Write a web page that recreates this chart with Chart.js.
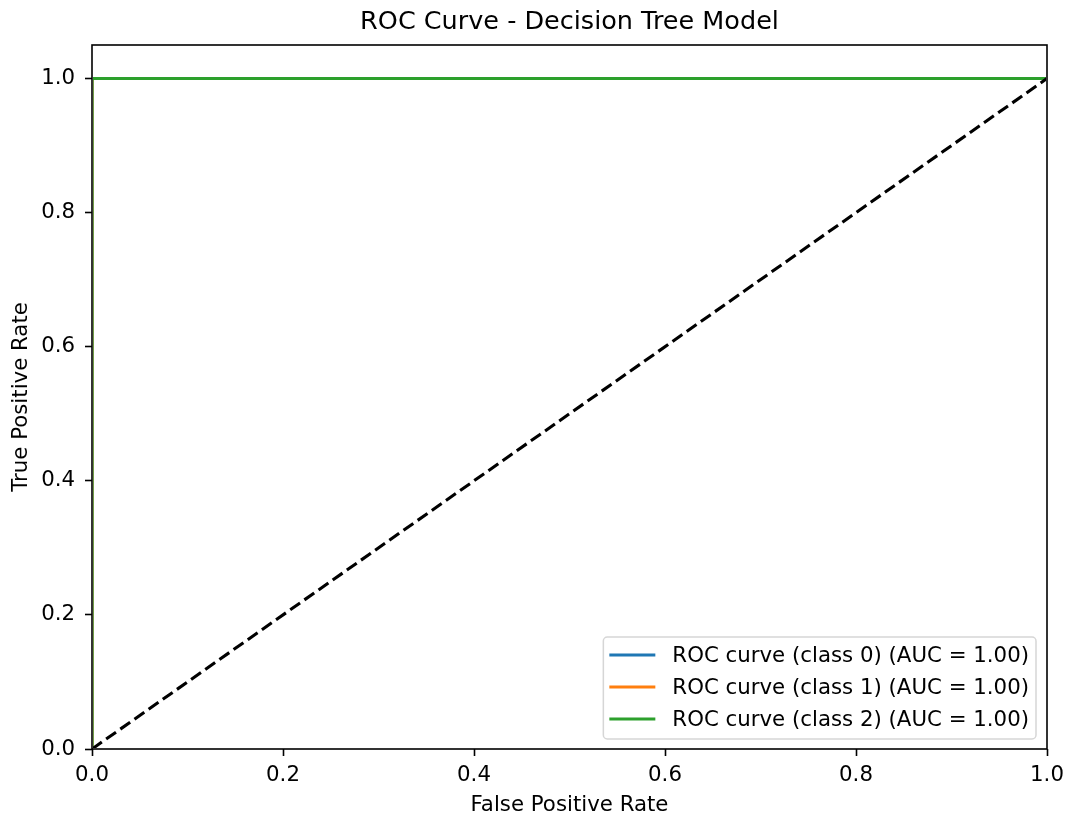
<!DOCTYPE html>
<html>
<head>
<meta charset="utf-8">
<title>ROC Curve - Decision Tree Model</title>
<script src="https://cdn.jsdelivr.net/npm/chart.js@4"></script>
<style>
  html, body { margin: 0; padding: 0; background: #fff; }
  #wrap { width: 1068px; height: 819px; position: relative; }
</style>
</head>
<body>
<div id="wrap"><canvas id="roc"></canvas></div>
<script>
// ROC points per class (false positive rate / true positive rate)
const classNames = ['class 0', 'class 1', 'class 2'];
const aucScores = [1.00, 1.00, 1.00];
const fprByClass = [[0, 0, 1], [0, 0, 1], [0, 0, 1]];
const tprByClass = [[0, 1, 1], [0, 1, 1], [0, 1, 1]];
// chance diagonal
const chanceFpr = [0, 1];
const chanceTpr = [0, 1];
// axis ticks
const xTicks = [0, 0.2, 0.4, 0.6, 0.8, 1.0];
const yTicks = [0, 0.2, 0.4, 0.6, 0.8, 1.0];

const COLORS = ['#1f77b4', '#ff7f0e', '#2ca02c'];
const FONT = 'DejaVu Sans';
const FS = 21.3;

Chart.defaults.font.family = FONT;
Chart.defaults.color = '#000';

function toPoints(xs, ys) {
  return xs.map((x, i) => ({ x: x, y: ys[i] }));
}

const datasets = classNames.map((name, i) => ({
  label: 'ROC curve (' + name + ') (AUC = ' + aucScores[i].toFixed(2) + ')',
  data: toPoints(fprByClass[i], tprByClass[i]),
  borderColor: COLORS[i],
  backgroundColor: COLORS[i],
  borderWidth: 3.1,
  pointRadius: 0,
  showLine: true,
  tension: 0,
  clip: -1,
  order: 3 - i
}));
datasets.push({
  label: '',
  data: toPoints(chanceFpr, chanceTpr),
  borderColor: '#000',
  borderWidth: 3.1,
  borderDash: [12, 5.3],
  pointRadius: 0,
  showLine: true,
  clip: -1,
  order: 0
});

// plot frame + legend in the lower right corner
const frameAndLegend = {
  id: 'frameAndLegend',
  afterDraw(chart) {
    const { ctx, chartArea: a } = chart;
    ctx.save();
    ctx.strokeStyle = '#000';
    ctx.lineWidth = 1.6;
    ctx.strokeRect(a.left, a.top, a.right - a.left, a.bottom - a.top);

    const items = chart.data.datasets.filter(d => d.label);
    ctx.font = FS + 'px "' + FONT + '"';
    const textW = Math.max(...items.map(d => ctx.measureText(d.label).width));
    const rowH = 32;
    const boxW = 69 + textW + 7;
    const boxH = 102;
    const bx = a.right - 11 - boxW;
    const by = a.bottom - 10 - boxH;

    ctx.beginPath();
    ctx.roundRect(bx, by, boxW, boxH, 4);
    ctx.fillStyle = 'rgba(255,255,255,0.8)';
    ctx.fill();
    ctx.strokeStyle = 'rgba(204,204,204,0.8)';
    ctx.lineWidth = 1.5;
    ctx.stroke();

    ctx.textAlign = 'left';
    ctx.textBaseline = 'middle';
    items.forEach((d, k) => {
      const y = by + 18 + k * rowH;
      ctx.beginPath();
      ctx.moveTo(bx + 6, y);
      ctx.lineTo(bx + 52, y);
      ctx.strokeStyle = d.borderColor;
      ctx.lineWidth = 3.1;
      ctx.stroke();
      ctx.fillStyle = '#000';
      ctx.fillText(d.label, bx + 69, y + 1);
    });
    ctx.restore();
  }
};

const tickGrid = {
  display: true,
  drawOnChartArea: false,
  drawTicks: true,
  tickLength: 7,
  tickColor: '#000',
  tickWidth: 1.6
};

new Chart(document.getElementById('roc'), {
  type: 'scatter',
  data: { datasets: datasets },
  options: {
    responsive: true,
    maintainAspectRatio: false,
    animation: false,
    events: [],
    layout: { padding: { left: 0, right: 21, top: 0, bottom: 0 } },
    plugins: {
      legend: { display: false },
      tooltip: { enabled: false },
      title: {
        display: true,
        fullSize: false,
        text: 'ROC Curve - Decision Tree Model',
        font: { size: 25.5, weight: 'normal', lineHeight: 1.2 },
        color: '#000',
        padding: { top: 7, bottom: 7.4 }
      }
    },
    scales: {
      x: {
        type: 'linear',
        min: 0,
        max: 1,
        afterBuildTicks: s => { s.ticks = xTicks.map(v => ({ value: v })); },
        afterFit: s => { s.height = 70; s.paddingLeft = 0; s.paddingRight = 0; },
        ticks: {
          autoSkip: false,
          maxRotation: 0,
          padding: 6.2,
          font: { size: FS },
          callback: v => v.toFixed(1)
        },
        grid: tickGrid,
        border: { display: false },
        title: {
          display: true,
          text: 'False Positive Rate',
          font: { size: FS, lineHeight: 1.2 },
          padding: { top: 0, bottom: 1.2 }
        }
      },
      y: {
        type: 'linear',
        min: 0,
        max: 1.05,
        afterBuildTicks: s => { s.ticks = yTicks.map(v => ({ value: v })); },
        afterFit: s => { s.width = 92; },
        ticks: {
          autoSkip: false,
          padding: 10,
          font: { size: FS },
          callback: v => v.toFixed(1)
        },
        grid: tickGrid,
        border: { display: false },
        title: {
          display: true,
          text: 'True Positive Rate',
          font: { size: FS, lineHeight: 1.2 },
          padding: { top: 9, bottom: 0 }
        }
      }
    }
  },
  plugins: [frameAndLegend]
});
</script>
</body>
</html>
